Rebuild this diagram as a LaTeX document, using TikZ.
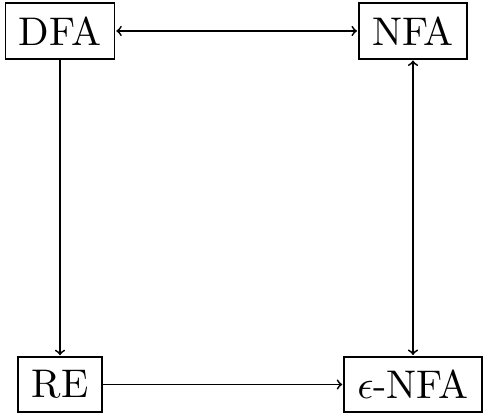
\documentclass[tikz,border=0pt]{standalone}
\begin{document}
\begin{tikzpicture}[x=0.5pt,y=-0.5pt,
  box/.style={draw,line width=0.9pt,scale=2,transform shape,inner sep=3.333pt},
  conn/.style={line width=0.9pt}]
\useasboundingbox (0,0) rectangle (488,416);
\node[box] (dfa) at (60,31) {DFA};
\node[box] (nfa) at (413,31) {NFA};
\node[box] (re) at (60,384.5) {RE};
\node[box] (enfa) at (413,384.5) {$\epsilon$-NFA};
\draw[conn,<->] (dfa) -- (nfa);
\draw[conn,->] (dfa) -- (re);
\draw[conn,->] (re) -- (enfa);
\draw[conn,<->] (enfa) -- (nfa);
\end{tikzpicture}
\end{document}
